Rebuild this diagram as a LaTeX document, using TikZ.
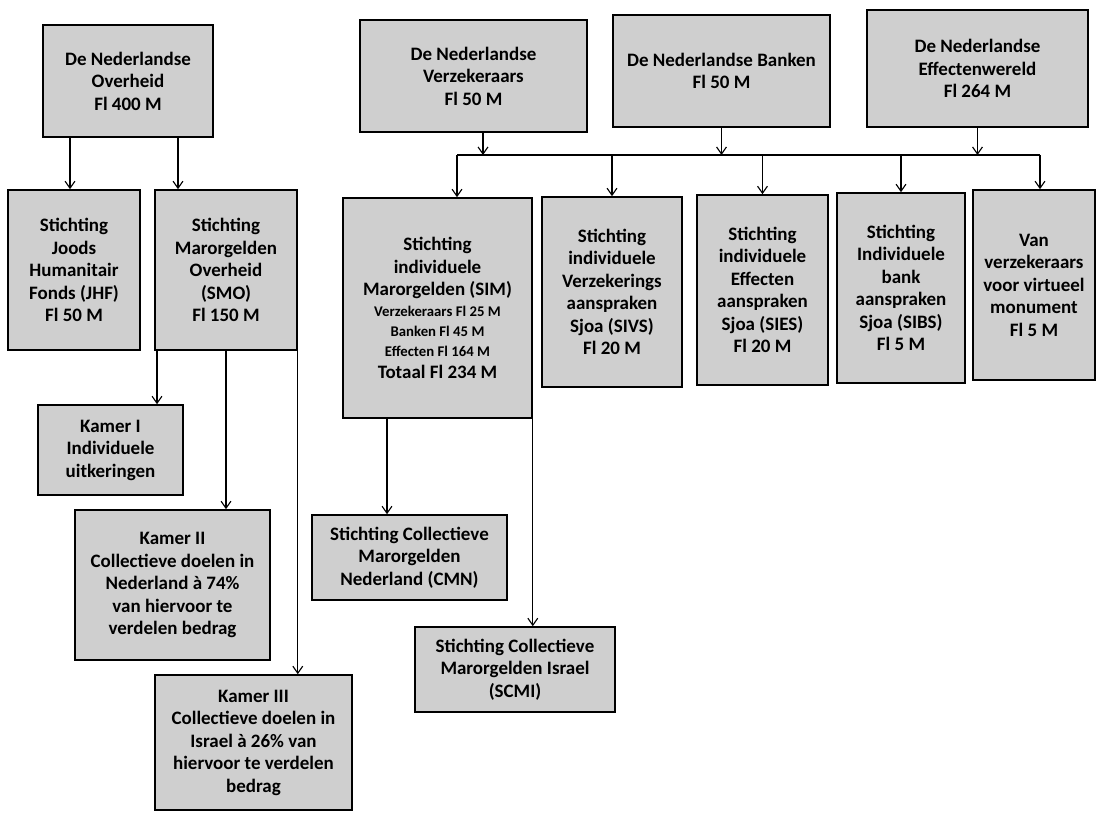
\documentclass[tikz,border=0pt]{standalone}
\usepackage{fontspec}
\setmainfont{Carlito}
\usetikzlibrary{arrows.meta}
\newcommand{\kleintekst}{\fontsize{10.5}{12}\selectfont}
\begin{document}
\begin{tikzpicture}[x=0.025cm,y=-0.025cm,>={Straight Barb[length=5pt,width=7pt]},
  box/.style={draw,line width=1.1pt,fill=gray!38,align=center,inner sep=2pt,
    font=\bfseries\fontsize{13.5}{16}\selectfont}]
\useasboundingbox (0,0) rectangle (1101,814);
% bronnen
\node[box,minimum width=4.25cm,minimum height=2.8cm] (ovh) at (128,81) {De Nederlandse\\Overheid\\Fl 400 M};
\node[box,minimum width=5.675cm,minimum height=2.8cm] (verz) at (473.5,76) {De Nederlandse\\Verzekeraars\\Fl 50 M};
\node[box,minimum width=5.425cm,minimum height=2.8cm] (bank) at (721.5,71) {De Nederlandse Banken\\Fl 50 M};
\node[box,minimum width=5.525cm,minimum height=2.925cm] (eff) at (977.5,68.5) {De Nederlandse\\Effectenwereld\\Fl 264 M};
% overheid
\node[box,minimum width=3.3cm,minimum height=4cm] (jhf) at (74,270) {Stichting\\Joods\\Humanitair\\Fonds (JHF)\\Fl 50 M};
\node[box,minimum width=3.55cm,minimum height=4cm] (smo) at (226,270) {Stichting\\Marorgelden\\Overheid\\(SMO)\\Fl 150 M};
\node[box,minimum width=3.625cm,minimum height=2.25cm] (k1) at (110.5,450) {Kamer I\\Individuele\\uitkeringen};
\node[box,minimum width=4.875cm,minimum height=3.75cm] (k2) at (172.5,585) {Kamer II\\Collectieve doelen in\\Nederland à 74\%\\van hiervoor te\\verdelen bedrag};
\node[box,minimum width=4.925cm,minimum height=3.375cm] (k3) at (253.5,742.5) {Kamer III\\Collectieve doelen in\\Israel à 26\% van\\hiervoor te verdelen\\bedrag};
% bedrijfsleven
\node[box,minimum width=4.725cm,minimum height=5.5cm] (sim) at (437.5,308) {Stichting\\individuele\\Marorgelden (SIM)\\[-1pt]
  {\kleintekst Verzekeraars Fl 25 M}\\[-2pt]{\kleintekst Banken Fl 45 M}\\[-2pt]{\kleintekst Effecten Fl 164 M}\\Totaal Fl 234 M};
\node[box,minimum width=3.5cm,minimum height=4.75cm] (sivs) at (612,292) {Stichting\\individuele\\Verzekerings\\aanspraken\\Sjoa (SIVS)\\Fl 20 M};
\node[box,minimum width=3.275cm,minimum height=4.75cm] (sies) at (762.5,290) {Stichting\\individuele\\Effecten\\aanspraken\\Sjoa (SIES)\\Fl 20 M};
\node[box,minimum width=3.2cm,minimum height=4.75cm] (sibs) at (901,288) {Stichting\\Individuele\\bank\\aanspraken\\Sjoa (SIBS)\\Fl 5 M};
\node[box,minimum width=3.05cm,minimum height=4.75cm] (mon) at (1034,285) {Van\\verzekeraars\\voor virtueel\\monument\\Fl 5 M};
\node[box,minimum width=4.875cm,minimum height=2.125cm] (cmn) at (409.5,557.5) {Stichting Collectieve\\Marorgelden\\Nederland (CMN)};
\node[box,minimum width=5cm,minimum height=2.125cm] (scmi) at (515,669.5) {Stichting Collectieve\\Marorgelden Israel\\(SCMI)};
% verbindingen
\draw[->,thick] (ovh.south -| 70,0) -- (jhf.north -| 70,0);
\draw[->,thick] (ovh.south -| 178,0) -- (smo.north -| 178,0);
\draw[->,thick] (smo.south -| 157,0) -- (k1.north -| 157,0);
\draw[->,thick] (smo.south) -- (smo.south |- k2.north);
\draw[->,thick] (smo.south east) -- (smo.south east |- k3.north);
\coordinate (busL) at (457,155);
\coordinate (busR) at (1040,155);
\draw[thick] (busL) -- (busR);
\draw[->,thick] (verz.south -| 483,0) -- (busL -| 483,0);
\draw[->,thick] (bank.south) -- (bank.south |- busL);
\draw[->,thick] (eff.south) -- (eff.south |- busL);
\draw[->,thick] (busL) -- (busL |- sim.north);
\foreach \n in {sivs,sies,sibs}{
    \draw[->,thick] (\n.north |- busL) -- (\n.north);
    }
\draw[->,thick] (busR) -- (busR |- mon.north);
\draw[->,thick] (sim.south -| 387,0) -- (cmn.north -| 387,0);
\draw[->,thick] (sim.south east) -- (sim.south east |- scmi.north);
\end{tikzpicture}
\end{document}
